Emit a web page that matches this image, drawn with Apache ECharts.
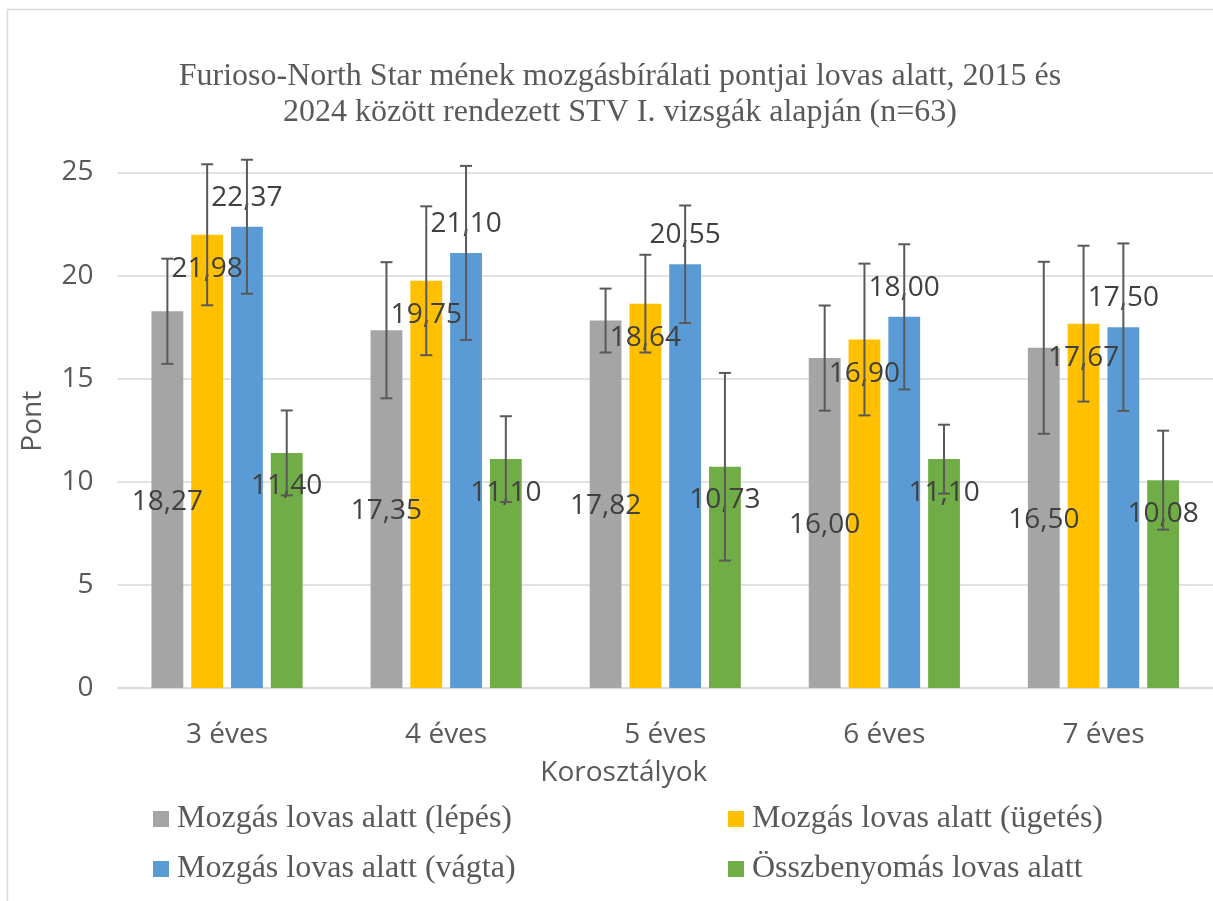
<!DOCTYPE html>
<html>
<head>
<meta charset="utf-8">
<script src="https://cdn.jsdelivr.net/npm/echarts@6/dist/echarts.min.js"></script>
<style>
html,body{margin:0;padding:0;background:#fff;}
#chart{width:1213px;height:901px;}
</style>
</head>
<body>
<div id="chart"></div>
<script>
// ---- data ----
var categories = ['3 éves', '4 éves', '5 éves', '6 éves', '7 éves'];
var seriesNames = ['Mozgás lovas alatt (lépés)', 'Mozgás lovas alatt (ügetés)', 'Mozgás lovas alatt (vágta)', 'Összbenyomás lovas alatt'];
var lepes = [18.27, 17.35, 17.82, 16.00, 16.50];
var ugetes = [21.98, 19.75, 18.64, 16.90, 17.67];
var vagta = [22.37, 21.10, 20.55, 18.00, 17.50];
var osszbenyomas = [11.40, 11.10, 10.73, 11.10, 10.08];
var lepesErr = [2.55, 3.30, 1.55, 2.55, 4.17];
var ugetesErr = [3.42, 3.61, 2.37, 3.68, 3.78];
var vagtaErr = [3.25, 4.22, 2.85, 3.52, 4.06];
var osszbenyomasErr = [2.06, 2.08, 4.55, 1.67, 2.40];
var yTicks = [0, 5, 10, 15, 20, 25];

// ---- styling / layout ----
var colors = ['#a5a5a5', '#ffc000', '#5b9bd5', '#70ad47'];
var values = [lepes, ugetes, vagta, osszbenyomas];
var errs = [lepesErr, ugetesErr, vagtaErr, osszbenyomasErr];
var CAT_GAP = 0.31, BAR_GAP = 0.25;
var sansFont = '"Open Sans", "Noto Sans", sans-serif';
var serifFont = '"Liberation Serif", "DejaVu Serif", serif';
var labelStyles = [
  {position: 'inside', offset: [0, 2]},
  {position: 'insideTop', distance: 20.5},
  {position: 'top', distance: 15},
  {position: 'insideTop', distance: 19.5}
];

function fmt(v) { return v.toFixed(2).replace('.', ','); }

function errRenderer(idx) {
  return function (params, api) {
    var cat = api.value(0), v = api.value(1), e = api.value(2);
    var band = api.size([1, 0])[0];
    var barW = band * (1 - CAT_GAP) / (4 + 3 * BAR_GAP);
    var off = (idx - 1.5) * barW * (1 + BAR_GAP);
    var x = api.coord([cat, v])[0] + off;
    var yt = api.coord([cat, v + e])[1];
    var yb = api.coord([cat, v - e])[1];
    var cap = 6;
    var st = {stroke: '#595959', lineWidth: 2};
    return {
      type: 'group',
      children: [
        {type: 'line', shape: {x1: x, y1: yt, x2: x, y2: yb}, style: st},
        {type: 'line', shape: {x1: x - cap, y1: yt, x2: x + cap, y2: yt}, style: st},
        {type: 'line', shape: {x1: x - cap, y1: yb, x2: x + cap, y2: yb}, style: st}
      ]
    };
  };
}

var series = [];
for (var i = 0; i < 4; i++) {
  var ls = labelStyles[i];
  series.push({
    name: seriesNames[i],
    type: 'bar',
    data: values[i],
    barCategoryGap: (CAT_GAP * 100) + '%',
    barGap: (BAR_GAP * 100) + '%',
    itemStyle: {color: colors[i]},
    label: {
      show: true,
      position: ls.position,
      distance: ls.distance,
      offset: ls.offset,
      color: '#404040',
      fontFamily: sansFont,
      fontSize: 28,
      lineHeight: 28,
      formatter: function (p) { return fmt(p.value); }
    },
    emphasis: {disabled: true},
    z: 2
  });
}
for (var j = 0; j < 4; j++) {
  var d = [];
  for (var k = 0; k < categories.length; k++) d.push([k, values[j][k], errs[j][k]]);
  series.push({
    name: 'err' + j,
    type: 'custom',
    renderItem: errRenderer(j),
    data: d,
    encode: {x: 0, y: 1},
    z: 5,
    silent: true
  });
}

var legendText = {fontFamily: serifFont, fontSize: 32, color: '#595959', lineHeight: 32, padding: [0, 0, 0, 3]};

var option = {
  animation: false,
  backgroundColor: '#ffffff',
  grid: {left: 117.5, right: -4.5, top: 172.5, bottom: 213, containLabel: false},
  graphic: [
    {type: 'rect', shape: {x: 7.5, y: 9.5, width: 1300, height: 1000}, style: {fill: 'none', stroke: '#d9d9d9', lineWidth: 1.5}, silent: true, z: -10},
    {type: 'text', x: 620, y: 95, style: {
      text: 'Furioso-North Star mének mozgásbírálati pontjai lovas alatt, 2015 és\n2024 között rendezett STV I. vizsgák alapján (n=63)',
      fill: '#595959', font: '32px ' + serifFont, align: 'center', verticalAlign: 'middle', lineHeight: 36
    }, silent: true}
  ],
  legend: [
    {data: [seriesNames[0], seriesNames[2]], orient: 'vertical', left: 153, top: 803, padding: 0, itemWidth: 16, itemHeight: 16, itemGap: 18, icon: 'rect', textStyle: legendText, selectedMode: false},
    {data: [seriesNames[1], seriesNames[3]], orient: 'vertical', left: 728, top: 803, padding: 0, itemWidth: 16, itemHeight: 16, itemGap: 18, icon: 'rect', textStyle: legendText, selectedMode: false}
  ],
  xAxis: {
    type: 'category',
    data: categories,
    axisLine: {lineStyle: {color: '#d9d9d9', width: 1.5}},
    axisTick: {show: false},
    axisLabel: {color: '#595959', fontFamily: sansFont, fontSize: 28, margin: 33, lineHeight: 28},
    name: 'Korosztályok',
    nameLocation: 'middle',
    nameGap: 71,
    nameTextStyle: {color: '#595959', fontFamily: sansFont, fontSize: 28, lineHeight: 28, padding: [0, 83, 0, 0]}
  },
  yAxis: {
    type: 'value',
    min: yTicks[0],
    max: yTicks[yTicks.length - 1],
    interval: yTicks[1] - yTicks[0],
    axisLine: {show: false},
    axisTick: {show: false},
    splitLine: {lineStyle: {color: '#d9d9d9', width: 1.5}},
    axisLabel: {color: '#595959', fontFamily: sansFont, fontSize: 28, margin: 24},
    name: 'Pont',
    nameLocation: 'middle',
    nameGap: 70,
    nameTextStyle: {color: '#595959', fontFamily: sansFont, fontSize: 28, lineHeight: 28, padding: [0, 0, 0, 18]}
  },
  series: series
};

var chart = echarts.init(document.getElementById('chart'), null, {renderer: 'canvas'});
chart.setOption(option);
</script>
</body>
</html>
